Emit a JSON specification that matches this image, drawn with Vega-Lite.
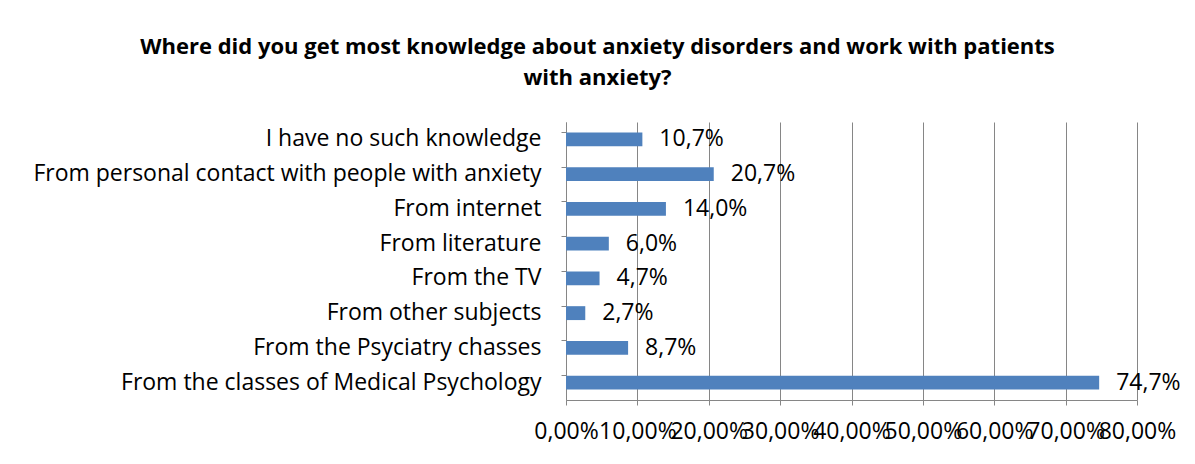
{
  "$schema": "https://vega.github.io/schema/vega-lite/v6.json",
  "autosize": "none",
  "width": 571,
  "height": 278,
  "padding": {"left": 566, "top": 122, "right": 58, "bottom": 64},
  "background": "white",
  "title": {
    "text": ["Where did you get most knowledge about anxiety disorders and work with patients", "with anxiety?"],
    "anchor": "middle",
    "dx": -254,
    "offset": 32,
    "font": "Open Sans",
    "fontSize": 22,
    "fontWeight": "bold",
    "color": "black",
    "lineHeight": 31
  },
  "config": {
    "locale": {"number": {"decimal": ",", "thousands": ".", "grouping": [3], "currency": ["", " €"]}},
    "view": {"stroke": null},
    "font": "Open Sans"
  },
  "data": {
    "values": [
      {"source": "I have no such knowledge", "share": 0.107},
      {"source": "From personal contact with people with anxiety", "share": 0.207},
      {"source": "From internet", "share": 0.14},
      {"source": "From literature", "share": 0.06},
      {"source": "From the TV", "share": 0.047},
      {"source": "From other subjects", "share": 0.027},
      {"source": "From the Psyciatry chasses", "share": 0.087},
      {"source": "From the classes of Medical Psychology", "share": 0.747}
    ]
  },
  "encoding": {
    "y": {
      "field": "source",
      "type": "nominal",
      "sort": null,
      "scale": {"paddingInner": 0.6, "paddingOuter": 0.3},
      "axis": {
        "title": null,
        "bandPosition": 0,
        "domainColor": "#868686",
        "tickColor": "#868686",
        "tickSize": 5,
        "labelPadding": 20,
        "labelFontSize": 23,
        "labelColor": "black",
        "labelLimit": 700,
        "grid": false
      }
    },
    "x": {
      "field": "share",
      "type": "quantitative",
      "scale": {"domain": [0, 0.8], "nice": false},
      "axis": {
        "title": null,
        "format": ".2%",
        "values": [0, 0.1, 0.2, 0.3, 0.4, 0.5, 0.6, 0.7, 0.8],
        "labelOverlap": false,
        "labelFlush": false,
        "labelFontSize": 23,
        "labelColor": "black",
        "labelPadding": 15,
        "tickSize": 5,
        "tickColor": "#868686",
        "domainColor": "#868686",
        "gridColor": "#868686",
        "gridWidth": 1
      }
    }
  },
  "layer": [
    {"mark": {"type": "bar", "color": "#4F81BD"}},
    {
      "mark": {"type": "text", "align": "left", "dx": 17, "fontSize": 23, "color": "black"},
      "encoding": {"text": {"field": "share", "type": "quantitative", "format": ".1%"}}
    }
  ]
}
